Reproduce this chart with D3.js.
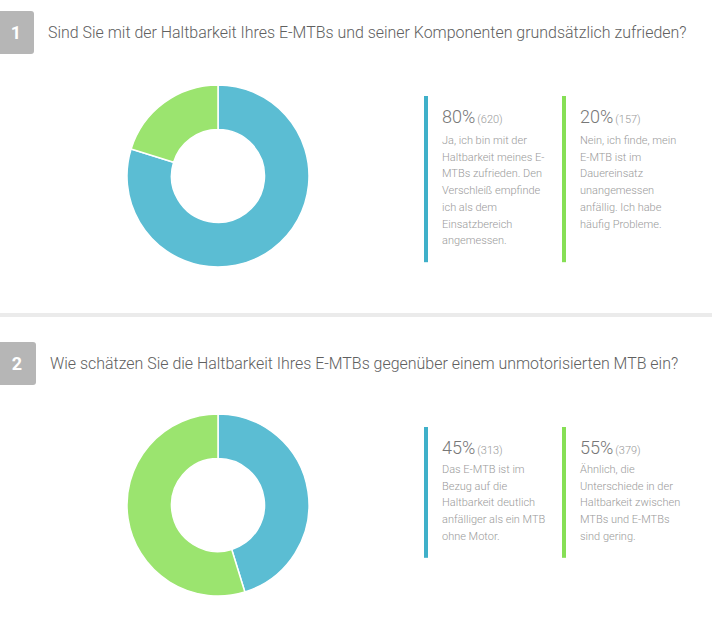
<!DOCTYPE html>
<meta charset="utf-8">
<title>E-MTB Haltbarkeit</title>
<style>
body { margin: 0; background: #fff; }
svg text { font-family: Roboto, "Open Sans", sans-serif; }
</style>
<body>
<div id="chart"></div>
<script src="https://d3js.org/d3.v7.min.js"></script>
<script>

// questions and answers
var questionNumbers = ["1", "2"];
var questionTitles = [
  "Sind Sie mit der Haltbarkeit Ihres E-MTBs und seiner Komponenten grundsätzlich zufrieden?",
  "Wie schätzen Sie die Haltbarkeit Ihres E-MTBs gegenüber einem unmotorisierten MTB ein?"
];
var answerKeys = ["a", "b"];
var q1Counts = [620, 157];
var q1Percents = [80, 20];
var q1Texts = [
  ["Ja, ich bin mit der", "Haltbarkeit meines E-", "MTBs zufrieden. Den", "Verschleiß empfinde", "ich als dem", "Einsatzbereich", "angemessen."],
  ["Nein, ich finde, mein", "E-MTB ist im", "Dauereinsatz", "unangemessen", "anfällig. Ich habe", "häufig Probleme."]
];
var q2Counts = [313, 379];
var q2Percents = [45, 55];
var q2Texts = [
  ["Das E-MTB ist im", "Bezug auf die", "Haltbarkeit deutlich", "anfälliger als ein MTB", "ohne Motor."],
  ["Ähnlich, die", "Unterschiede in der", "Haltbarkeit zwischen", "MTBs und E-MTBs", "sind gering."]
];

var width = 712, height = 641;

var svg = d3.select("#chart")
  .append("svg")
    .attr("width", width)
    .attr("height", height);

var color = d3.scaleOrdinal()
  .domain(answerKeys)
  .range(["#5bbdd3", "#9be46f"]);
var barColor = d3.scaleOrdinal()
  .domain(answerKeys)
  .range(["#3fb0c9", "#86df55"]);

// layout of the two blocks
var blocks = [
  {counts: q1Counts, percents: q1Percents, texts: q1Texts, badgeW: 34, titleX: 48, cy: 176, inner: 46.5},
  {counts: q2Counts, percents: q2Percents, texts: q2Texts, badgeW: 36, titleX: 50, cy: 505, inner: 46.5}
];

// separator
svg.append("rect")
  .attr("x", 0).attr("y", 313)
  .attr("width", width).attr("height", 4)
  .attr("fill", "#ebebeb");

var pie = d3.pie().sort(null).value(function(d) { return d; });
var lineH = 16.7;

blocks.forEach(function(b, qi) {
  var g = svg.append("g");
  var badgeY = qi == 0 ? 11 : 342;

  // number badge
  g.append("rect")
    .attr("x", -4).attr("y", badgeY)
    .attr("width", b.badgeW + 4).attr("height", 43)
    .attr("rx", 3)
    .attr("fill", "#b6b6b6");
  g.append("text")
    .attr("x", b.badgeW / 2 - 1).attr("y", badgeY + 28)
    .attr("text-anchor", "middle")
    .attr("fill", "#fff")
    .style("font-size", "18px")
    .style("font-weight", 700)
    .text(questionNumbers[qi]);

  // title
  g.append("text")
    .attr("x", b.titleX).attr("y", badgeY + 27)
    .attr("fill", "#606060")
    .style("font-size", "15.95px")
    .style("font-weight", 300)
    .text(questionTitles[qi]);

  // donut
  var arc = d3.arc().innerRadius(b.inner).outerRadius(91);
  g.append("g")
    .attr("transform", "translate(218," + b.cy + ")")
    .selectAll("path")
    .data(pie(b.counts))
    .enter()
    .append("path")
      .attr("d", arc)
      .attr("fill", function(d, i) { return color(answerKeys[i]); })
      .attr("stroke", "#fff")
      .attr("stroke-width", 1.5);

  // legend columns
  var pctY = qi == 0 ? 123 : 454;
  var descY = qi == 0 ? 144 : 473;
  var maxLines = d3.max(b.texts, function(t) { return t.length; });
  var barTop = pctY - 27;
  var barBottom = descY + (maxLines - 1) * lineH + 18;
  var colX = [424, 562];

  answerKeys.forEach(function(k, i) {
    var cg = g.append("g").attr("transform", "translate(" + colX[i] + ",0)");
    cg.append("rect")
      .attr("x", 0).attr("y", barTop)
      .attr("width", 4).attr("height", barBottom - barTop)
      .attr("fill", barColor(k));
    var t = cg.append("text")
      .attr("x", 18).attr("y", pctY)
      .attr("fill", "#777")
      .style("font-weight", 300);
    t.append("tspan").style("font-size", "18px").text(b.percents[i] + "%");
    t.append("tspan").attr("dx", 2).style("font-size", "11px").attr("fill", "#999").text("(" + b.counts[i] + ")");
    cg.selectAll("text.desc")
      .data(b.texts[i])
      .enter()
      .append("text")
        .attr("class", "desc")
        .attr("x", 18)
        .attr("y", function(d, j) { return descY + j * lineH; })
        .attr("fill", "#9a9a9a")
        .style("font-size", "11px")
        .style("font-weight", 300)
        .text(function(d) { return d; });
  });
});

</script>
</body>
